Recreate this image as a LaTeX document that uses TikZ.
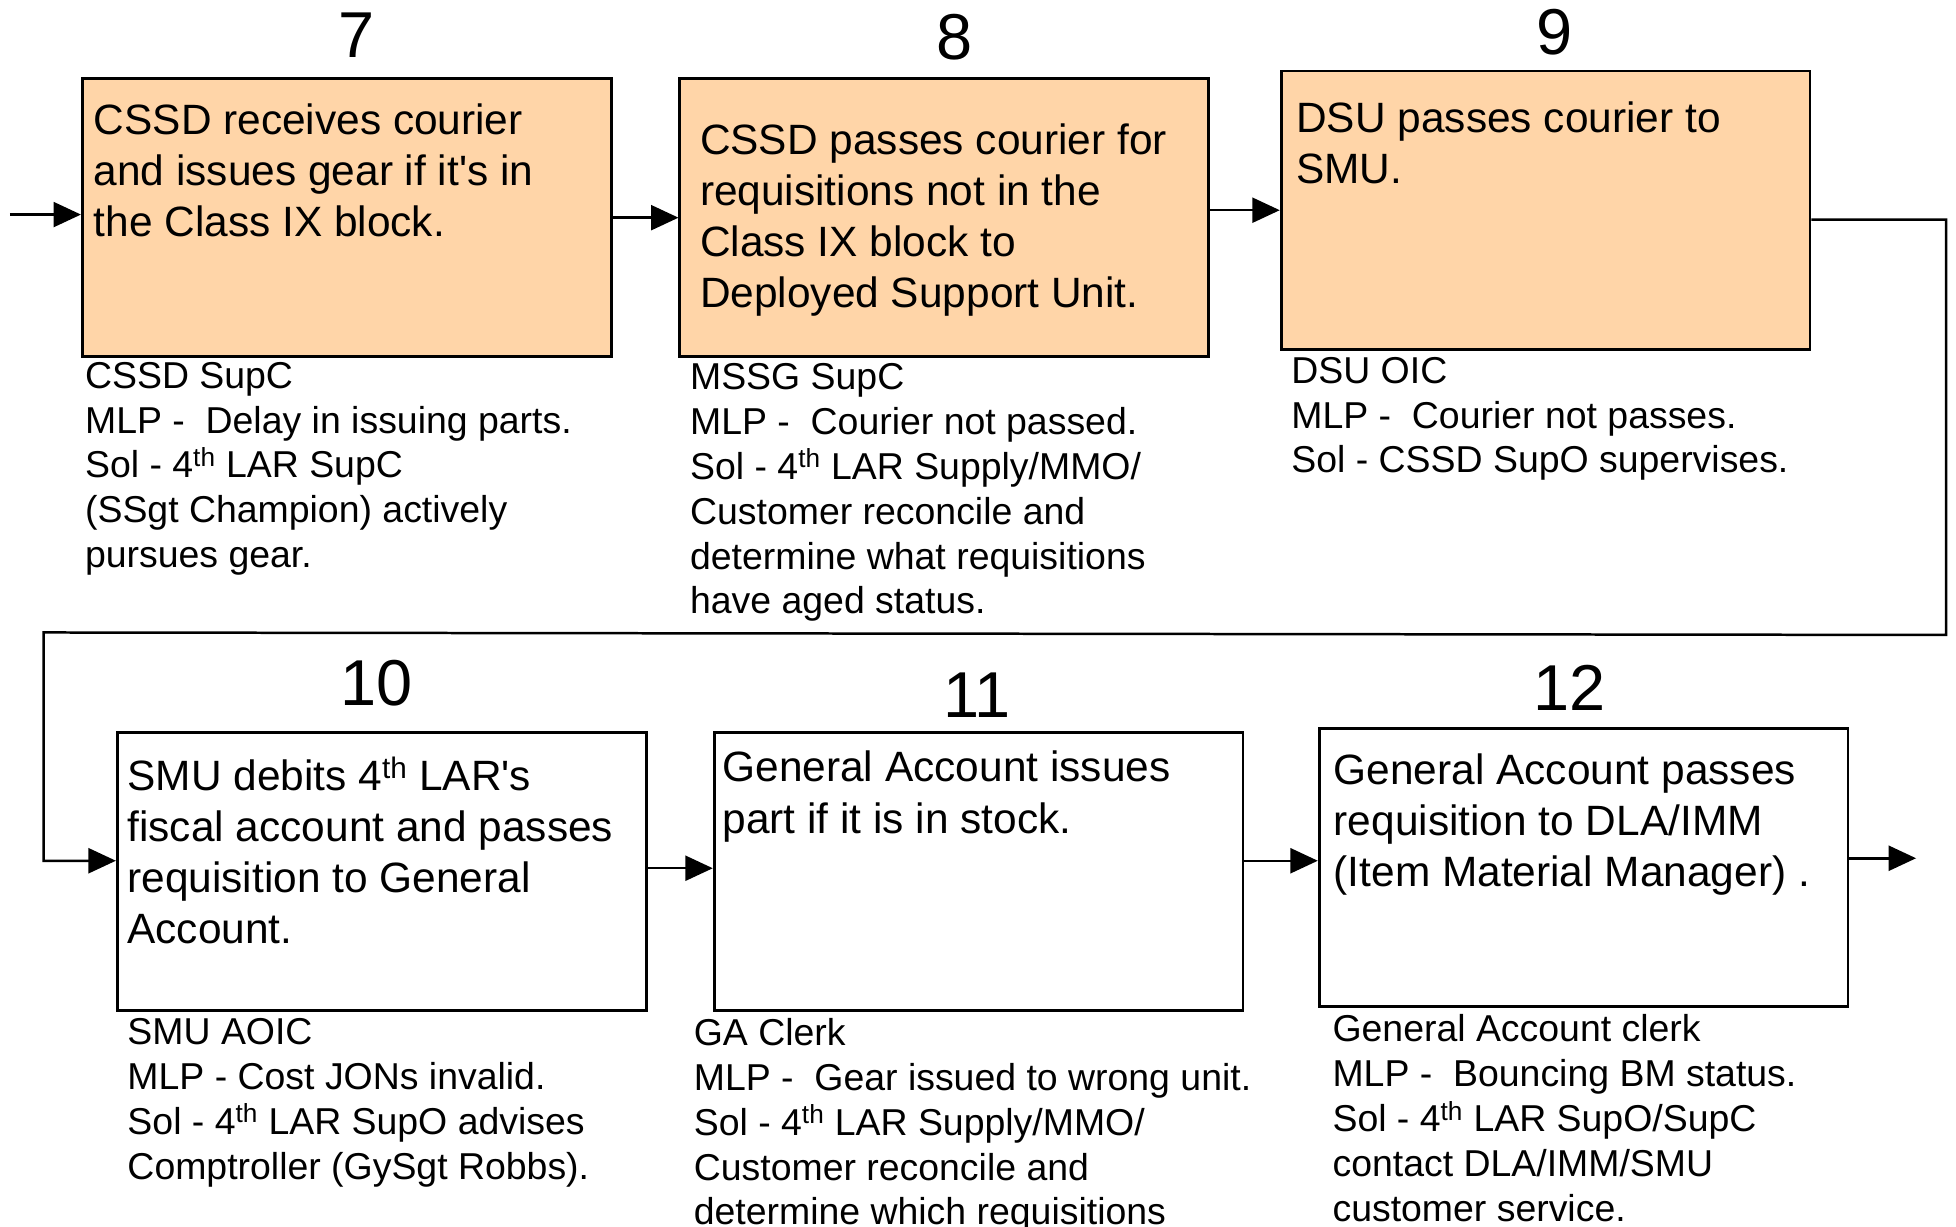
\documentclass[tikz,border=0pt]{standalone}
\usepackage{fontspec}
\setmainfont{Liberation Sans}[Ligatures=TeXOff]
\usetikzlibrary{arrows.meta}
\definecolor{peach}{RGB}{255,213,168}
\begin{document}
\begin{tikzpicture}[x=1pt,y=-1pt,
  stepbox/.style={draw=black,line width=2.2pt,minimum width=424pt,minimum height=223pt,inner sep=0pt},
  filled/.style={stepbox,fill=peach},
  boxtext/.style={anchor=north west,align=left,inner sep=0pt,font=\fontsize{34}{41}\selectfont},
  notetext/.style={anchor=north west,align=left,inner sep=0pt,font=\fontsize{30}{36}\selectfont},
  numtext/.style={inner sep=0pt,font=\fontsize{52}{60}\selectfont},
  conn/.style={line width=2pt,-{Triangle[length=22pt,width=20pt]}},
  plain/.style={line width=2pt}]
\useasboundingbox (0,0) rectangle (1568,983);
% boxes
\node[filled] (b7) at (278,174.5) {};
\node[filled] (b8) at (757,174.5) {};
\node[filled] (b9) at (1239,168.5) {};
\node[stepbox] (b10) at (306,698.5) {};
\node[stepbox] (b11) at (784.5,698.5) {};
\node[stepbox] (b12) at (1269.5,695.5) {};
% numbers
\node[numtext] (n7) at (286,28) {7};
\node[numtext] (n8) at (765,30) {8};
\node[numtext] (n9) at (1246,26) {9};
\node[numtext] (n10) at (302,548) {10};
\node[numtext] (n11) at (783,557) {11};
\node[numtext] (n12) at (1258,551) {12};
% box texts
\node[boxtext] (t7) at (75,83) {CSSD receives courier\\and issues gear if it's in\\the Class IX block.};
\node[boxtext] (t8) at (561,99) {CSSD passes courier for\\requisitions not in the\\Class IX block to\\Deployed Support Unit.};
\node[boxtext] (t9) at (1039,81) {DSU passes courier to\\SMU.};
\node[boxtext] (t10) at (102,607) {SMU debits 4\textsuperscript{th} LAR's\\fiscal account and passes\\requisition to General\\Account.};
\node[boxtext] (t11) at (579,602) {General Account issues\\part if it is in stock.};
\node[boxtext] (t12) at (1069,604) {General Account passes\\requisition to DLA/IMM\\(Item Material Manager) .};
% notes
\node[notetext] (m7) at (68,290) {CSSD SupC\\MLP -\ \ Delay in issuing parts.\\Sol - 4\textsuperscript{th} LAR SupC\\(SSgt Champion) actively\\pursues gear.};
\node[notetext] (m8) at (553,291) {MSSG SupC\\MLP -\ \ Courier not passed.\\Sol - 4\textsuperscript{th} LAR Supply/MMO/\\Customer reconcile and\\determine what requisitions\\have aged status.};
\node[notetext] (m9) at (1035,286) {DSU OIC\\MLP -\ \ Courier not passes.\\Sol - CSSD SupO supervises.};
\node[notetext] (m10) at (102,816) {SMU AOIC\\MLP - Cost JONs invalid.\\Sol - 4\textsuperscript{th} LAR SupO advises\\Comptroller (GySgt Robbs).};
\node[notetext] (m11) at (556,816) {GA Clerk\\MLP -\ \ Gear issued to wrong unit.\\Sol - 4\textsuperscript{th} LAR Supply/MMO/\\Customer reconcile and\\determine which requisitions};
\node[notetext] (m12) at (1068,813) {General Account clerk\\MLP -\ \ Bouncing BM status.\\Sol - 4\textsuperscript{th} LAR SupO/SupC\\contact DLA/IMM/SMU\\customer service.};
% connectors
\coordinate (start) at (8,172);
\coordinate (r1) at (1560,176);
\coordinate (r2) at (1560,509);
\coordinate (l1) at (35,507);
\coordinate (l2) at (35,690);
\coordinate (endpt) at (1536,688);
\draw[conn] (start) -- (start -| b7.west);
\draw[conn] (b7.east) -- (b8.west);
\draw[conn] (b9.west -| b8.east) -- (b9.west);
\draw[conn] (b9.east |- r1) -- (r1) -- (r2) -- (l1) -- (l2) -- (l2 -| b10.west);
\draw[conn] (b10.east |- 0,696) -- (b11.west |- 0,696);
\draw[conn] (b11.east |- 0,690) -- (b12.west |- 0,690);
\draw[conn] (endpt -| b12.east) -- (endpt);
\end{tikzpicture}
\end{document}
